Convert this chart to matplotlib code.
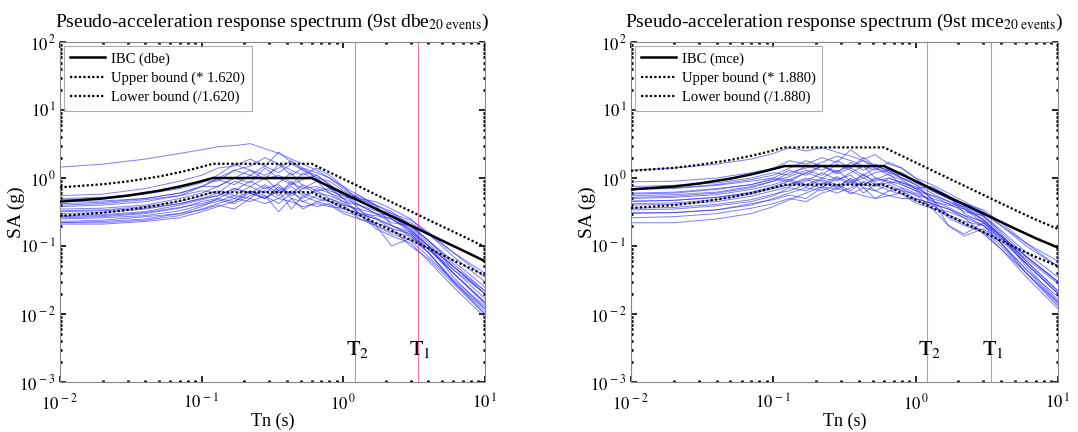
import math
import matplotlib
matplotlib.use('Agg')
import matplotlib.pyplot as plt
from matplotlib.ticker import LogLocator, FuncFormatter, NullFormatter

# ---------------- data ----------------
periods = [0.01, 0.02, 0.04, 0.07, 0.1, 0.13, 0.17, 0.22, 0.28, 0.35, 0.43,
           0.52, 0.65, 0.8, 1.0, 1.3, 1.7, 2.2, 3.0, 4.0, 6.0, 10.0]

dbe_events = [
    [1.45, 1.6, 1.9, 2.3, 2.6, 2.9, 3.0, 3.2, 2.7, 2.3, 1.9, 1.6, 1.3, 1.0, 0.75, 0.55, 0.4, 0.3, 0.2, 0.12, 0.05, 0.02],
    [0.55, 0.58, 0.7, 0.9, 1.1, 1.4, 1.5, 1.9, 1.5, 2.4, 1.7, 1.4, 1.2, 1.0, 0.7, 0.5, 0.45, 0.35, 0.25, 0.15, 0.07, 0.03],
    [0.5, 0.52, 0.6, 0.75, 0.9, 0.9, 1.3, 1.1, 1.5, 1.2, 1.6, 1.3, 1.1, 0.8, 0.55, 0.45, 0.35, 0.28, 0.22, 0.15, 0.08, 0.04],
    [0.45, 0.46, 0.5, 0.6, 0.75, 0.95, 0.8, 1.1, 0.95, 1.6, 1.1, 1.4, 1.0, 0.7, 0.6, 0.4, 0.3, 0.25, 0.18, 0.1, 0.05, 0.02],
    [0.4, 0.42, 0.48, 0.55, 0.65, 0.6, 0.9, 0.75, 1.0, 0.65, 0.8, 1.2, 0.9, 0.75, 0.5, 0.55, 0.4, 0.2, 0.15, 0.09, 0.04, 0.015],
    [0.35, 0.36, 0.4, 0.5, 0.6, 0.75, 1.0, 0.85, 1.4, 1.0, 0.8, 0.95, 1.1, 0.8, 0.6, 0.35, 0.3, 0.22, 0.2, 0.12, 0.06, 0.025],
    [0.33, 0.34, 0.38, 0.45, 0.55, 0.65, 0.55, 0.75, 0.6, 0.85, 1.2, 0.75, 0.6, 0.55, 0.45, 0.4, 0.3, 0.28, 0.17, 0.1, 0.035, 0.012],
    [0.3, 0.31, 0.35, 0.42, 0.5, 0.6, 0.5, 0.65, 0.55, 0.42, 0.6, 0.5, 0.7, 0.6, 0.5, 0.3, 0.25, 0.18, 0.15, 0.08, 0.03, 0.01],
    [0.28, 0.29, 0.32, 0.4, 0.48, 0.55, 0.7, 0.6, 0.5, 0.65, 0.35, 0.55, 0.45, 0.5, 0.4, 0.35, 0.2, 0.15, 0.12, 0.07, 0.03, 0.012],
    [0.26, 0.27, 0.3, 0.36, 0.45, 0.5, 0.65, 0.9, 0.7, 0.8, 0.55, 0.7, 0.9, 0.6, 0.45, 0.3, 0.28, 0.25, 0.16, 0.09, 0.04, 0.015],
    [0.25, 0.26, 0.28, 0.33, 0.4, 0.45, 0.55, 0.5, 0.75, 0.55, 0.9, 0.6, 0.5, 0.45, 0.4, 0.25, 0.2, 0.1, 0.13, 0.08, 0.03, 0.011],
    [0.23, 0.24, 0.27, 0.3, 0.38, 0.5, 0.45, 0.65, 0.5, 0.75, 0.5, 0.45, 0.55, 0.45, 0.35, 0.3, 0.18, 0.14, 0.11, 0.06, 0.025, 0.009],
    [0.22, 0.22, 0.24, 0.28, 0.35, 0.42, 0.5, 0.45, 0.55, 0.32, 0.5, 0.35, 0.45, 0.4, 0.3, 0.25, 0.22, 0.18, 0.1, 0.065, 0.028, 0.01],
    [0.22, 0.23, 0.25, 0.3, 0.34, 0.4, 0.35, 0.5, 0.42, 0.5, 0.65, 0.45, 0.38, 0.42, 0.32, 0.28, 0.2, 0.16, 0.14, 0.09, 0.045, 0.02],
    [0.21, 0.21, 0.23, 0.26, 0.32, 0.38, 0.45, 0.6, 0.5, 0.7, 0.6, 0.8, 0.65, 0.5, 0.42, 0.33, 0.26, 0.2, 0.16, 0.1, 0.05, 0.022],
    [0.38, 0.4, 0.45, 0.55, 0.75, 1.0, 1.3, 1.5, 2.0, 1.6, 1.3, 1.1, 1.4, 1.1, 0.75, 0.45, 0.35, 0.3, 0.24, 0.16, 0.08, 0.035],
    [0.42, 0.44, 0.5, 0.6, 0.75, 0.75, 1.0, 1.3, 0.95, 1.1, 0.85, 0.7, 0.75, 0.65, 0.55, 0.5, 0.4, 0.32, 0.2, 0.12, 0.055, 0.022],
    [0.32, 0.33, 0.36, 0.42, 0.5, 0.55, 0.7, 0.6, 0.8, 0.6, 0.75, 0.55, 0.65, 0.7, 0.5, 0.4, 0.33, 0.27, 0.19, 0.11, 0.045, 0.017],
    [0.27, 0.28, 0.31, 0.37, 0.42, 0.48, 0.42, 0.55, 0.65, 0.5, 0.45, 0.38, 0.42, 0.38, 0.36, 0.3, 0.25, 0.2, 0.14, 0.08, 0.032, 0.013],
    [0.48, 0.5, 0.58, 0.7, 0.85, 1.1, 1.6, 1.3, 1.1, 1.4, 1.8, 1.3, 1.0, 0.9, 0.65, 0.5, 0.38, 0.25, 0.17, 0.1, 0.04, 0.014],
]

mce_events = [
    [1.3, 1.4, 1.6, 1.9, 2.3, 2.8, 2.5, 2.8, 2.4, 2.1, 1.8, 1.5, 1.3, 1.2, 0.9, 0.7, 0.5, 0.4, 0.28, 0.16, 0.07, 0.03],
    [0.88, 0.9, 1.0, 1.2, 1.4, 1.8, 1.6, 2.0, 1.7, 2.6, 1.9, 2.2, 1.6, 1.4, 1.0, 0.8, 0.6, 0.45, 0.32, 0.2, 0.1, 0.05],
    [0.75, 0.78, 0.85, 1.0, 1.2, 1.1, 1.5, 1.3, 1.8, 1.4, 2.0, 1.5, 1.3, 1.0, 0.85, 0.65, 0.5, 0.4, 0.3, 0.2, 0.11, 0.06],
    [0.68, 0.7, 0.78, 0.9, 1.0, 1.3, 1.1, 1.5, 1.2, 1.7, 1.3, 1.6, 1.2, 1.0, 0.8, 0.6, 0.45, 0.35, 0.25, 0.14, 0.07, 0.03],
    [0.6, 0.62, 0.7, 0.8, 0.95, 0.9, 1.2, 1.0, 1.3, 0.9, 1.1, 1.4, 1.1, 0.95, 0.7, 0.75, 0.55, 0.3, 0.22, 0.12, 0.055, 0.02],
    [0.55, 0.57, 0.62, 0.75, 0.9, 1.05, 1.3, 1.1, 1.6, 1.3, 1.0, 1.2, 1.3, 1.0, 0.8, 0.5, 0.42, 0.32, 0.28, 0.17, 0.08, 0.035],
    [0.5, 0.52, 0.57, 0.68, 0.8, 0.95, 0.8, 1.0, 0.9, 1.2, 1.5, 1.0, 0.9, 0.8, 0.65, 0.55, 0.42, 0.38, 0.24, 0.14, 0.05, 0.016],
    [0.45, 0.47, 0.52, 0.62, 0.75, 0.9, 0.75, 0.95, 0.8, 0.65, 0.9, 0.75, 1.0, 0.85, 0.7, 0.42, 0.35, 0.26, 0.2, 0.11, 0.04, 0.013],
    [0.42, 0.43, 0.48, 0.58, 0.7, 0.8, 1.0, 0.9, 0.75, 0.95, 0.6, 0.8, 0.65, 0.7, 0.55, 0.5, 0.28, 0.21, 0.17, 0.1, 0.04, 0.015],
    [0.4, 0.41, 0.45, 0.54, 0.65, 0.75, 0.9, 1.2, 0.95, 1.1, 0.8, 0.95, 1.15, 0.8, 0.65, 0.45, 0.4, 0.35, 0.22, 0.13, 0.055, 0.02],
    [0.36, 0.37, 0.41, 0.48, 0.58, 0.65, 0.8, 0.72, 1.0, 0.8, 1.15, 0.85, 0.72, 0.65, 0.58, 0.36, 0.2, 0.14, 0.18, 0.11, 0.045, 0.015],
    [0.34, 0.35, 0.39, 0.45, 0.55, 0.72, 0.65, 0.85, 0.72, 1.0, 0.72, 0.65, 0.8, 0.65, 0.5, 0.42, 0.26, 0.2, 0.16, 0.09, 0.035, 0.012],
    [0.31, 0.31, 0.34, 0.4, 0.5, 0.6, 0.72, 0.65, 0.8, 0.58, 0.72, 0.5, 0.65, 0.58, 0.43, 0.36, 0.32, 0.26, 0.15, 0.09, 0.04, 0.014],
    [0.3, 0.31, 0.34, 0.42, 0.48, 0.56, 0.5, 0.72, 0.6, 0.72, 0.86, 0.65, 0.55, 0.6, 0.46, 0.4, 0.29, 0.23, 0.2, 0.13, 0.065, 0.028],
    [0.22, 0.22, 0.25, 0.3, 0.38, 0.48, 0.6, 0.75, 0.68, 0.88, 0.78, 1.0, 0.86, 0.72, 0.6, 0.47, 0.37, 0.28, 0.23, 0.14, 0.07, 0.03],
    [0.52, 0.54, 0.6, 0.72, 0.9, 1.2, 1.4, 1.7, 2.1, 1.8, 1.5, 1.3, 1.7, 1.4, 1.0, 0.65, 0.5, 0.42, 0.34, 0.22, 0.11, 0.05],
    [0.58, 0.6, 0.68, 0.8, 1.0, 0.95, 1.2, 1.5, 1.15, 1.4, 1.1, 0.9, 1.0, 0.85, 0.75, 0.5, 0.2, 0.15, 0.22, 0.14, 0.06, 0.022],
    [0.46, 0.47, 0.52, 0.6, 0.72, 0.8, 0.95, 0.8, 1.05, 0.85, 1.0, 0.8, 0.85, 0.9, 0.7, 0.56, 0.46, 0.38, 0.27, 0.15, 0.06, 0.022],
    [0.26, 0.27, 0.3, 0.36, 0.42, 0.5, 0.45, 0.6, 0.7, 0.62, 0.55, 0.5, 0.55, 0.5, 0.5, 0.42, 0.35, 0.28, 0.2, 0.11, 0.045, 0.018],
    [0.7, 0.72, 0.8, 0.95, 1.1, 1.4, 1.8, 1.5, 1.25, 1.5, 1.8, 1.4, 1.2, 1.1, 0.9, 0.7, 0.52, 0.36, 0.24, 0.14, 0.055, 0.02],
]

ibc_periods = [0.01, 0.02, 0.03, 0.05, 0.07, 0.09, 0.12, 0.6, 0.8, 1.0, 1.5, 2.0, 3.0, 5.0, 7.0, 10.0]
ibc_dbe = [0.45, 0.5, 0.55, 0.65, 0.75, 0.85, 1.0, 1.0, 0.75, 0.6, 0.4, 0.3, 0.2, 0.12, 0.086, 0.06]
ibc_mce = [0.68, 0.75, 0.83, 0.98, 1.13, 1.28, 1.5, 1.5, 1.13, 0.9, 0.6, 0.45, 0.3, 0.18, 0.13, 0.095]

factor_dbe = 1.620
factor_mce = 1.880
T1 = 3.37
T2 = 1.21

# ---------------- style ----------------
plt.rcParams['font.family'] = ['Liberation Serif', 'DejaVu Serif']
plt.rcParams['mathtext.fontset'] = 'stix'

fig = plt.figure(figsize=(10.78, 4.32), dpi=100)
ax1 = fig.add_axes([0.0557, 0.1157, 0.394, 0.787])
ax2 = fig.add_axes([0.5853, 0.1157, 0.396, 0.787])


def fmt(v, pos):
    e = int(round(math.log10(v)))
    return r'$10^{\,%d}$' % e


def panel(ax, events, ibc, factor, name):
    for ev in events:
        ax.plot(periods, ev, color=(0.15, 0.15, 1.0), lw=0.7, alpha=0.6, zorder=2)
    up = [v * factor for v in ibc]
    lo = [v / factor for v in ibc]
    ax.plot(ibc_periods, ibc, color='black', lw=1.8, zorder=4, label='IBC (%s)' % name)
    ax.plot(ibc_periods, up, color='black', lw=1.6, ls=(0, (1, 1)), zorder=4,
            label='Upper bound (* %.3f)' % factor)
    ax.plot(ibc_periods, lo, color='black', lw=1.6, ls=(0, (1, 1)), zorder=4,
            label='Lower bound (/%.3f)' % factor)
    for T in (T1, T2):
        ax.axvline(T, color='#ff7799', lw=0.8, zorder=1)
    ax.text(T2 * 1.04, 3.0e-3, r'$\mathrm{T}_2$', fontsize=16, ha='center', va='center')
    ax.text(T1 * 1.04, 3.0e-3, r'$\mathrm{T}_1$', fontsize=16, ha='center', va='center')
    ax.set_xscale('log')
    ax.set_yscale('log')
    ax.set_xlim(1e-2, 1e1)
    ax.set_ylim(1e-3, 1e2)
    ax.xaxis.set_major_locator(LogLocator(base=10, numticks=10))
    ax.yaxis.set_major_locator(LogLocator(base=10, numticks=10))
    ax.xaxis.set_minor_locator(LogLocator(base=10, subs=range(2, 10), numticks=20))
    ax.yaxis.set_minor_locator(LogLocator(base=10, subs=range(2, 10), numticks=20))
    ax.xaxis.set_major_formatter(FuncFormatter(fmt))
    ax.yaxis.set_major_formatter(FuncFormatter(fmt))
    ax.xaxis.set_minor_formatter(NullFormatter())
    ax.yaxis.set_minor_formatter(NullFormatter())
    ax.tick_params(which='both', direction='in', top=True, right=True, labelsize=12)
    ax.tick_params(which='major', length=4, width=1.2)
    ax.tick_params(axis='x', which='major', pad=8)
    ax.tick_params(axis='y', which='major', pad=3)
    ax.tick_params(which='minor', length=1.5, width=2.0)
    for s in ax.spines.values():
        s.set_color('#888888')
        s.set_linewidth(0.8)
    ax.set_xlabel('Tn (s)', fontsize=13)
    ax.set_ylabel('SA (g)', fontsize=14)
    ax.xaxis.set_label_coords(0.5, -0.09)
    ax.yaxis.set_label_coords(-0.082, 0.5)
    ax.set_title(r'Pseudo-acceleration response spectrum (9st %s$_{\mathrm{20\ events}}$)' % name,
                 fontsize=14, pad=11)
    leg = ax.legend(loc='upper left', fontsize=10.5, frameon=True, fancybox=False,
                    edgecolor='#999999', handlelength=2.4, borderaxespad=0.25,
                    labelspacing=0.4, handletextpad=0.4, borderpad=0.45)
    leg.get_frame().set_linewidth(0.8)


panel(ax1, dbe_events, ibc_dbe, factor_dbe, 'dbe')
panel(ax2, mce_events, ibc_mce, factor_mce, 'mce')

fig.savefig('out.png', dpi=100)
